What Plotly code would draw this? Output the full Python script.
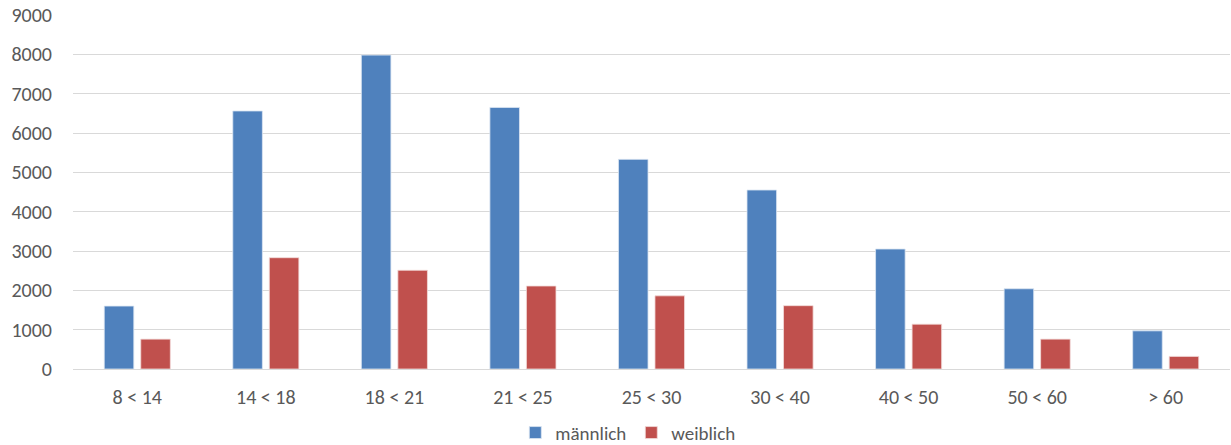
import plotly.graph_objects as go

# Altersgruppen und Anzahl je Geschlecht
age_groups = ["8 < 14", "14 < 18", "18 < 21", "21 < 25", "25 < 30",
              "30 < 40", "40 < 50", "50 < 60", "> 60"]
maennlich = [1600, 6560, 7980, 6650, 5330, 4550, 3050, 2040, 970]
weiblich = [760, 2830, 2510, 2110, 1860, 1610, 1140, 760, 320]
y_ticks = [0, 1000, 2000, 3000, 4000, 5000, 6000, 7000, 8000, 9000]

FONT = "Calibri, Carlito, Lato, Liberation Sans, Arial, sans-serif"
TEXT = "#595959"
GRID = "#D9D9D9"

fig = go.Figure()
fig.add_trace(go.Bar(
    name="männlich", x=age_groups, y=maennlich,
    marker=dict(color="#4F81BD", line=dict(color="#DCE6F2", width=0.8)),
))
fig.add_trace(go.Bar(
    name="weiblich", x=age_groups, y=weiblich,
    marker=dict(color="#C0504D", line=dict(color="#F2DCDB", width=0.8)),
))

fig.update_layout(
    width=1231, height=445,
    margin=dict(l=73, r=1, t=15, b=76, autoexpand=False),
    paper_bgcolor="white", plot_bgcolor="white",
    barmode="group", bargap=0.432, bargroupgap=0.19,
    font=dict(family=FONT, size=20, color=TEXT),
    showlegend=True,
    legend=dict(
        orientation="h", xref="container", yref="paper",
        x=0.51, xanchor="center", y=-0.18, yanchor="middle",
        font=dict(family=FONT, size=19, color=TEXT),
        itemwidth=30, tracegroupgap=0,
    ),
)
fig.update_xaxes(
    showgrid=False, showline=False, ticks="",
    ticklabelstandoff=14,
    tickfont=dict(family=FONT, size=20, color=TEXT),
)
fig.update_yaxes(
    range=[0, 9000], tickvals=y_ticks,
    showgrid=True, gridcolor=GRID, gridwidth=1,
    zeroline=True, zerolinecolor=GRID, zerolinewidth=1,
    showline=False, ticks="", ticklabelstandoff=20,
    tickfont=dict(family=FONT, size=20, color=TEXT),
)

fig.write_html("out.html")
